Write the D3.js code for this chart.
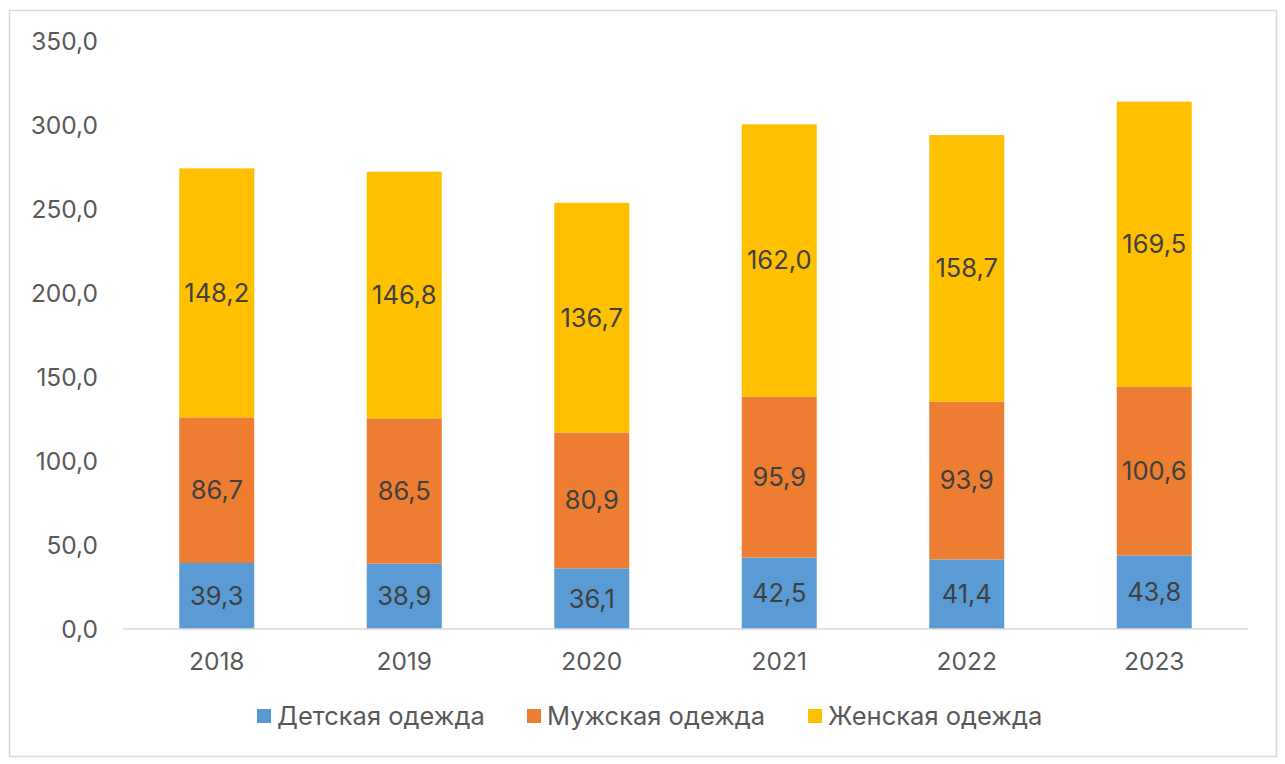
<!DOCTYPE html>
<html>
<head>
<meta charset="utf-8">
<script src="https://cdn.jsdelivr.net/npm/d3@7"></script>
<style>
  body { margin: 0; background: #fff; }
  svg { font-family: Inter, "Noto Sans", sans-serif; }
</style>
</head>
<body>
<script>
    ; (function () {
        var years = ['2018', '2019', '2020', '2021', '2022', '2023']
        var kids = [39.3, 38.9, 36.1, 42.5, 41.4, 43.8]
        var men = [86.7, 86.5, 80.9, 95.9, 93.9, 100.6]
        var women = [148.2, 146.8, 136.7, 162.0, 158.7, 169.5]
        var seriesNames = ['Детская одежда', 'Мужская одежда', 'Женская одежда']
        var yTicks = [0, 50, 100, 150, 200, 250, 300, 350]

        var colors = ['#5B9BD5', '#ED7D31', '#FFC000']
        var width = 1285, height = 764
        var left = 123, right = 1248, top = 41, bottom = 629

        var rows = years.map(function (y, i) {
            return { year: y, 0: kids[i], 1: men[i], 2: women[i] }
        })
        var stack = d3.stack().keys([0, 1, 2])(rows)

        var x = d3.scaleBand().domain(years).range([left, right]).paddingInner(0.6).paddingOuter(0.3)
        var y = d3.scaleLinear().domain([0, 350]).range([bottom, top])
        var fmt = function (d) { return d3.format('.1f')(d).replace('.', ',') }

        var svg = d3.select('body').append('svg')
            .attr('width', width)
            .attr('height', height)

        svg.append('rect')
            .attr('x', 9.5).attr('y', 10.5)
            .attr('width', 1267).attr('height', 746)
            .attr('fill', '#fff')
            .attr('stroke', '#d9d9d9')
            .attr('stroke-width', 1.5)

        // y axis labels
        svg.append('g').selectAll('text')
            .data(yTicks)
            .enter().append('text')
            .attr('x', 98)
            .attr('y', function (d) { return y(d) })
            .attr('dy', '.35em')
            .attr('text-anchor', 'end')
            .attr('fill', '#595959')
            .style('font-size', '24.5px')
            .text(fmt)

        var layer = svg.selectAll('g.layer')
            .data(stack)
            .enter().append('g')
            .attr('class', 'layer')
            .attr('fill', function (d, i) { return colors[i] })

        layer.selectAll('rect')
            .data(function (d) { return d })
            .enter().append('rect')
            .attr('x', function (d) { return x(d.data.year) })
            .attr('width', x.bandwidth())
            .attr('y', function (d) { return y(d[1]) })
            .attr('height', function (d) { return y(d[0]) - y(d[1]) })

        layer.selectAll('text')
            .data(function (d) { return d })
            .enter().append('text')
            .attr('x', function (d) { return x(d.data.year) + x.bandwidth() / 2 })
            .attr('y', function (d) { return y((d[0] + d[1]) / 2) })
            .attr('dy', '.35em')
            .attr('text-anchor', 'middle')
            .attr('fill', '#404040')
            .style('font-size', '25.5px')
            .text(function (d) { return fmt(d[1] - d[0]) })

        // x axis
        svg.append('line')
            .attr('x1', left).attr('x2', right)
            .attr('y1', bottom).attr('y2', bottom)
            .attr('stroke', '#d9d9d9')
            .attr('stroke-width', 1.5)

        svg.append('g').selectAll('text')
            .data(years)
            .enter().append('text')
            .attr('x', function (d) { return x(d) + x.bandwidth() / 2 })
            .attr('y', 661)
            .attr('dy', '.35em')
            .attr('text-anchor', 'middle')
            .attr('fill', '#595959')
            .style('font-size', '24.5px')
            .text(function (d) { return d })

        // legend
        var legX = [257, 527, 808]
        var leg = svg.append('g').selectAll('g')
            .data(seriesNames)
            .enter().append('g')
            .attr('transform', function (d, i) { return 'translate(' + legX[i] + ',716)' })

        leg.append('rect')
            .attr('x', 0).attr('y', -7)
            .attr('width', 14).attr('height', 14)
            .attr('fill', function (d, i) { return colors[i] })

        leg.append('text')
            .attr('x', 20)
            .attr('dy', '.35em')
            .attr('fill', '#595959')
            .style('font-size', '25.5px')
            .text(function (d) { return d })
    })()
</script>
</body>
</html>
